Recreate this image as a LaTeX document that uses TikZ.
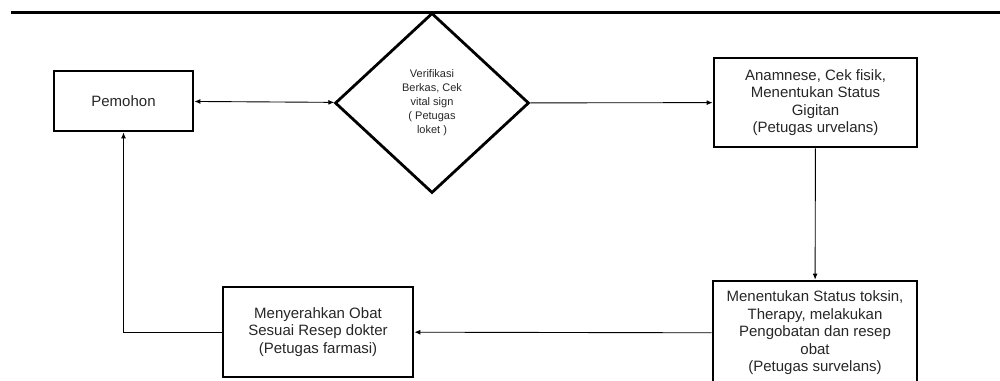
\documentclass[tikz,border=0pt]{standalone}
\usepackage{fontspec}
\setmainfont{Liberation Sans}
\usetikzlibrary{arrows.meta,shapes.geometric}
\begin{document}
\begin{tikzpicture}[x=1pt,y=-1pt,
  box/.style={draw,line width=2.8pt,inner sep=0pt,align=center,text=black!85,font=\fontsize{15}{17.5}\selectfont},
  dia/.style={draw,diamond,line width=2.8pt,inner sep=0pt,align=center,text=black!85,minimum width=194pt,minimum height=180pt,font=\fontsize{11}{14}\selectfont},
  conn/.style={line width=0.9pt,-{Latex[length=6pt,width=5pt]}}]
\useasboundingbox (0,0) rectangle (1000,380);
\clip (0,0) rectangle (1000,380);
\draw[line width=3pt] (11,12) -- (1000,12);
\node[box,minimum width=139pt,minimum height=60pt] (pem) at (123.5,101) {Pemohon};
\node[dia] (ver) at (432,103) {Verifikasi\\Berkas, Cek\\vital sign\\( Petugas\\loket )};
\node[box,minimum width=203pt,minimum height=89pt] (ana) at (815.5,102.5) {Anamnese, Cek fisik,\\Menentukan Status\\Gigitan\\(Petugas urvelans)};
\node[box,minimum width=204pt,minimum height=104pt] (men) at (815,333) {Menentukan Status toksin,\\Therapy, melakukan\\Pengobatan dan resep\\obat\\(Petugas survelans)};
\node[box,minimum width=190pt,minimum height=90pt] (obat) at (318,332) {Menyerahkan Obat\\Sesuai Resep dokter\\(Petugas farmasi)};
\draw[line width=0.9pt,{Latex[length=6pt,width=5pt]}-{Latex[length=6pt,width=5pt]}] (pem) -- (ver);
\draw[conn] (ver) -- (ana);
\draw[conn] (ana) -- (men);
\draw[conn] (men) -- (obat);
\draw[conn] (obat) -| (pem);
\end{tikzpicture}
\end{document}
